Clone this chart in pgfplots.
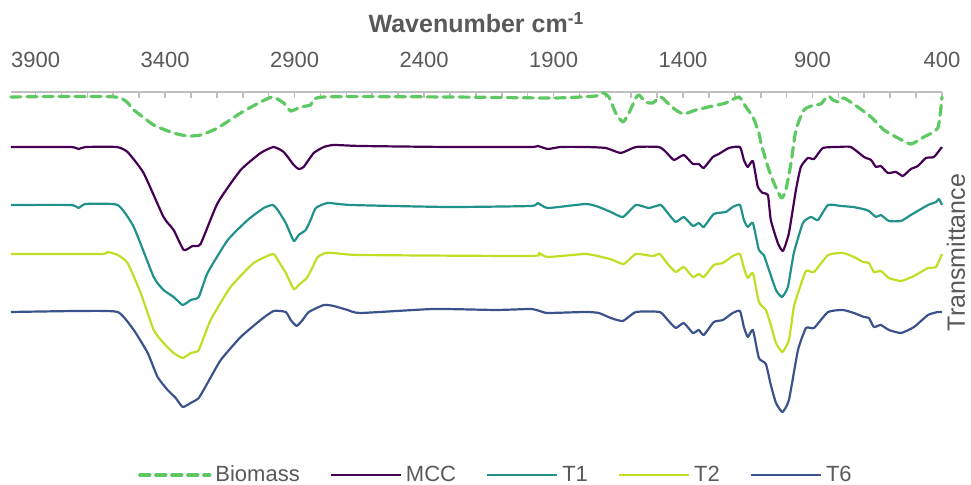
\documentclass[border=0pt]{standalone}
\usepackage{pgfplots}
\pgfplotsset{compat=1.18}
\usepackage{pgfplotstable}
\usepackage{fontspec}
\setmainfont{Liberation Sans}
\definecolor{cBio}{HTML}{5EC962}
\definecolor{cMCC}{HTML}{440154}
\definecolor{cT1}{HTML}{21918C}
\definecolor{cT2}{HTML}{BDDF26}
\definecolor{cT6}{HTML}{3B528B}
\definecolor{txtgray}{HTML}{595959}
\definecolor{axgray}{HTML}{BFBFBF}

\pgfplotstableread{
wn y
3995 353
3591 353
3521 340
3444 325
3367 317
3313 314
3263 315
3197 322
3108 337
3031 348
2984 353
2942 347
2915 339
2876 343
2838 345
2791 353
2300 353
1900 352
1737 354
1710 357
1686 353
1660 337
1632 328
1609 337
1582 352
1570 355
1544 348
1517 347
1486 353
1459 347
1428 340
1397 336
1350 340
1285 344
1235 347
1184 353
1157 343
1130 333
1107 317
1099 307
1072 283
1049 267
1020 252
1003 260
983 287
964 320
933 340
894 345
868 346
840 354
821 350
798 348
779 352
725 343
674 333
624 320
570 312
520 306
470 313
416 322
400 353
}\biomass

\pgfplotstableread{
wn y
3995 303
3765 303
3734 301
3707 303
3587 303
3545 298
3483 277
3406 233
3367 220
3328 200
3294 204
3263 206
3197 247
3108 280
3031 297
2981 303
2942 298
2903 285
2884 281
2865 283
2826 297
2787 303
2749 305
2645 304
2308 303
1988 303
1961 304
1922 301
1872 303
1775 303
1698 302
1640 297
1582 303
1493 303
1466 298
1435 290
1397 295
1362 286
1339 286
1320 282
1285 293
1262 296
1223 302
1180 303
1165 290
1150 283
1130 289
1111 263
1092 257
1072 255
1061 230
1034 207
1014 199
991 217
964 260
945 283
918 292
894 291
860 302
802 303
752 303
701 293
674 290
655 283
636 284
609 277
578 278
551 274
520 281
493 284
462 292
431 293
400 303
}\mcc

\pgfplotstableread{
wn y
3995 245
3765 245
3734 242
3707 246
3583 245
3521 223
3444 173
3406 160
3367 153
3332 145
3301 150
3270 153
3236 177
3158 210
3081 230
3019 242
2984 245
2965 240
2934 227
2903 209
2884 215
2857 220
2838 230
2818 242
2772 247
2683 245
2308 243
1988 244
1961 247
1922 242
1775 246
1725 243
1679 238
1632 233
1582 245
1532 242
1486 245
1459 237
1428 228
1397 233
1362 224
1339 227
1320 223
1281 236
1235 238
1208 243
1180 245
1165 230
1150 223
1130 227
1107 200
1088 195
1068 180
1041 160
1018 153
995 163
972 197
937 227
906 233
879 230
840 245
790 244
744 243
705 241
682 239
655 233
636 235
605 229
558 229
520 235
454 245
423 248
412 251
400 245
}\tone

\pgfplotstableread{
wn y
3995 196
3649 196
3622 198
3583 195
3545 187
3494 157
3444 120
3406 107
3367 97
3332 92
3301 97
3270 100
3224 130
3147 163
3058 187
2984 196
2965 190
2934 177
2903 161
2884 165
2853 172
2830 183
2811 193
2780 197
2749 197
2645 195
1988 194
1957 197
1922 193
1775 196
1698 192
1671 190
1629 186
1582 196
1517 194
1490 196
1459 186
1428 178
1397 183
1362 173
1339 176
1320 173
1281 185
1246 187
1208 194
1180 196
1165 182
1150 172
1130 177
1107 148
1080 140
1061 125
1041 107
1016 98
991 110
972 143
956 157
925 179
894 178
840 195
783 197
740 193
705 188
682 187
663 178
636 179
605 172
558 169
508 174
454 182
423 183
400 196
}\ttwo

\pgfplotstableread{
wn y
3995 138
3734 139
3583 138
3521 120
3467 97
3429 73
3390 60
3359 52
3332 43
3301 47
3270 52
3236 67
3185 90
3108 113
3031 130
2981 139
2934 138
2915 130
2892 124
2869 130
2845 138
2787 145
2749 144
2695 140
2645 137
2363 141
2123 140
1988 141
1953 139
1922 137
1775 138
1725 137
1679 132
1632 129
1582 138
1490 138
1459 130
1428 122
1397 127
1362 117
1339 120
1320 115
1281 128
1246 130
1208 137
1180 139
1165 123
1150 113
1130 120
1107 92
1080 86
1061 65
1041 47
1016 38
991 50
956 100
925 122
894 122
840 138
783 140
740 137
701 133
682 132
663 123
636 125
605 120
558 117
508 123
454 135
416 138
400 138
}\tsix

\begin{document}
\begin{tikzpicture}
\path[use as bounding box] (-5.5pt,-27.5pt) rectangle (480pt,215pt);
\begin{axis}[
  at={(0,0)}, anchor=south west,
  scale only axis,
  width=465.5pt, height=169pt,
  x dir=reverse,
  xmin=400, xmax=3995,
  ymin=20, ymax=358,
  axis x line*=top,
  axis y line=none,
  x axis line style={draw=axgray, line width=0.8pt, -},
  xtick={400,900,...,3900},
  minor xtick={500,600,...,3900},
  major tick length=3pt, minor tick length=3pt,
  tick align=inside,
  tick style={draw=axgray, line width=0.8pt},
  /pgf/number format/assume math mode=true,
  /pgf/number format/set thousands separator={},
  xticklabel style={font=\fontsize{11}{13}\selectfont, text=txtgray, anchor=base, yshift=12pt},
  xlabel={\textbf{Wavenumber cm\textsuperscript{-1}}},
  xlabel style={font=\fontsize{12.5}{14}\selectfont, text=txtgray, at={(rel axis cs:0.5,1)}, anchor=base, yshift=29.5pt},
  clip=false,
  legend columns=5,
  legend style={at={(rel axis cs:0.522,-0.133)}, anchor=center, draw=none, fill=none,
    font=\fontsize{11}{13}\selectfont, text=txtgray,
    /tikz/every even column/.append style={column sep=13pt}},
  legend image code/.code={\draw[#1] (0pt,0pt) -- (35pt,0pt);},
  line join=round,
]
\addplot[cBio, line width=1.6pt, dash pattern=on 5pt off 3pt, line cap=round, smooth, tension=0.35] table[x=wn,y=y] {\biomass};
\addlegendentry{Biomass}
\addplot[cMCC, line width=1.1pt, smooth, tension=0.3] table[x=wn,y=y] {\mcc};
\addlegendentry{MCC}
\addplot[cT1, line width=1.1pt, smooth, tension=0.3] table[x=wn,y=y] {\tone};
\addlegendentry{T1}
\addplot[cT2, line width=1.1pt, smooth, tension=0.3] table[x=wn,y=y] {\ttwo};
\addlegendentry{T2}
\addplot[cT6, line width=1.1pt, smooth, tension=0.3] table[x=wn,y=y] {\tsix};
\addlegendentry{T6}
\node[rotate=90, anchor=base, font=\fontsize{12.5}{15}\selectfont, text=txtgray] at (rel axis cs:1.0245,0.525) {Transmittance};
\end{axis}
\end{tikzpicture}
\end{document}
